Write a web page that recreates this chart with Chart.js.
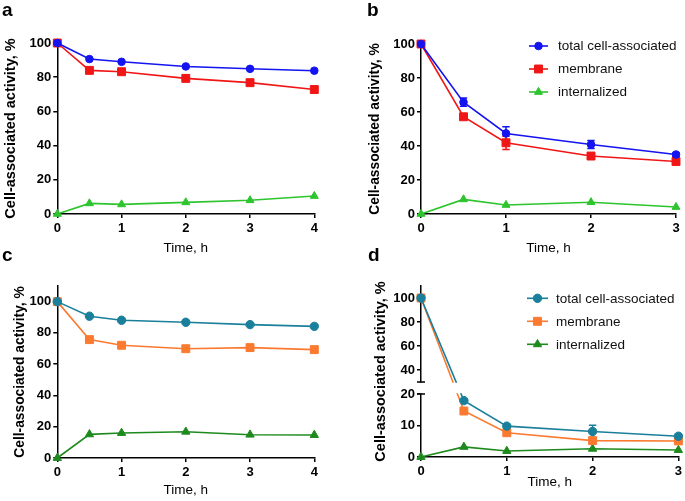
<!DOCTYPE html>
<html><head><meta charset="utf-8">
<script src="https://cdn.jsdelivr.net/npm/chart.js@4.4.1/dist/chart.umd.min.js"></script>
<style>
html,body{margin:0;padding:0;background:#fff;}
#wrap{position:relative;width:685px;height:501px;overflow:hidden;background:#fff;}
canvas{position:absolute;}
.lbl{position:absolute;font:bold 19px "Liberation Sans",Arial,sans-serif;line-height:19px;color:#000;}
</style></head><body>
<div id="wrap">
<canvas id="ca" width="342" height="260" style="left:0;top:0"></canvas>
<canvas id="cb" width="343" height="260" style="left:342px;top:0"></canvas>
<canvas id="cc" width="342" height="251" style="left:0;top:250px"></canvas>
<canvas id="cd" width="343" height="251" style="left:342px;top:250px"></canvas>
<div class="lbl" style="left:2px;top:0px">a</div>
<div class="lbl" style="left:367px;top:0px">b</div>
<div class="lbl" style="left:2px;top:245px">c</div>
<div class="lbl" style="left:368px;top:245px">d</div>
</div>
<script>
// ---- data ----
const seriesNames = ['total cell-associated', 'membrane', 'internalized'];
const yTitle = 'Cell-associated activity, %';
const xTitle = 'Time, h';

const timeA = [0, 0.5, 1, 2, 3, 4];
const aTotal = [100, 90.6, 89.0, 86.3, 84.9, 83.8];
const aMembrane = [100, 84.0, 83.2, 79.3, 76.8, 72.8];
const aInternal = [0, 6.2, 5.6, 6.8, 8.0, 10.5];

const timeB = [0, 0.5, 1, 2, 3];
const bTotal = [100, 65.8, 47.4, 40.9, 35.0];
const bTotalErr = [0, 2.4, 3.9, 2.3, 1.0];
const bMembrane = [100, 57.2, 41.9, 34.1, 30.9];
const bMembraneErr = [0, 1.0, 3.9, 1.5, 1.0];
const bInternal = [0, 8.6, 5.3, 6.9, 4.1];

const timeC = [0, 0.5, 1, 2, 3, 4];
const cTotal = [100, 90.7, 88.1, 86.8, 85.3, 84.2];
const cMembrane = [100, 75.7, 72.1, 69.9, 70.6, 69.3];
const cInternal = [0, 15.1, 16.0, 16.8, 14.9, 14.7];

const timeD = [0, 0.5, 1, 2, 3];
const dTotal = [100, 17.9, 9.8, 8.1, 6.6];
const dTotalErr = [0, 0.4, 0.4, 2.0, 0.3];
const dMembrane = [100, 14.6, 7.7, 5.2, 5.1];
const dInternal = [0, 3.2, 1.9, 2.6, 2.2];

const yTicksStd = [0, 20, 40, 60, 80, 100];
const yTicksBroken = [0, 10, 20, 40, 60, 80, 100];
const xTicks4 = [0, 1, 2, 3, 4];
const xTicks3 = [0, 1, 2, 3];

// ---- styling ----
const FAM = "'Liberation Sans', Arial, sans-serif";
const pal1 = ['#1414f0', '#f01616', '#2ec42e'];
const pal2 = ['#1a7f9b', '#fb7a30', '#1e8a1e'];
const BREAK_LOW = 20, BREAK_HIGH = 30, LOW_FRAC = 63 / 171, GAP_FRAC = 12 / 171;

// ---- broken linear scale for panel d ----
const LinearScale = Chart.LinearScale || Chart.registry.getScale('linear');
class BrokenScale extends LinearScale {
  getPixelForValue(v) {
    const top = this.top, bottom = this.bottom, h = bottom - top;
    const lowH = h * LOW_FRAC, gapH = h * GAP_FRAC, upH = h - lowH - gapH;
    if (v <= BREAK_LOW) return bottom - (v - this.min) / (BREAK_LOW - this.min) * lowH;
    if (v < BREAK_HIGH) return bottom - lowH - (v - BREAK_LOW) / (BREAK_HIGH - BREAK_LOW) * gapH;
    return bottom - lowH - gapH - (v - BREAK_HIGH) / (this.max - BREAK_HIGH) * upH;
  }
  getValueForPixel(p) {
    const top = this.top, bottom = this.bottom, h = bottom - top;
    const lowH = h * LOW_FRAC, gapH = h * GAP_FRAC, upH = h - lowH - gapH;
    const d = bottom - p;
    if (d <= lowH) return this.min + d / lowH * (BREAK_LOW - this.min);
    if (d <= lowH + gapH) return BREAK_LOW + (d - lowH) / gapH * (BREAK_HIGH - BREAK_LOW);
    return BREAK_HIGH + (d - lowH - gapH) / upH * (this.max - BREAK_HIGH);
  }
}
BrokenScale.id = 'brokenLinear';
BrokenScale.defaults = {};
Chart.register(BrokenScale);

// ---- plugins ----
const errorBars = {
  id: 'errorBars',
  beforeDatasetsDraw(chart) {
    const ctx = chart.ctx, ys = chart.scales.y;
    chart.data.datasets.forEach((ds, di) => {
      if (!ds.errors) return;
      const meta = chart.getDatasetMeta(di);
      ctx.save();
      ctx.strokeStyle = ds.borderColor; ctx.lineWidth = 1.5;
      meta.data.forEach((pt, i) => {
        const e = ds.errors[i]; if (!e) return;
        const v = ds.data[i].y;
        const y1 = ys.getPixelForValue(v + e), y2 = ys.getPixelForValue(v - e);
        ctx.beginPath();
        ctx.moveTo(pt.x, y1); ctx.lineTo(pt.x, y2);
        ctx.moveTo(pt.x - 3.7, y1); ctx.lineTo(pt.x + 3.7, y1);
        ctx.moveTo(pt.x - 3.7, y2); ctx.lineTo(pt.x + 3.7, y2);
        ctx.stroke();
      });
      ctx.restore();
    });
  }
};

const insideLegend = {
  id: 'insideLegend',
  afterDraw(chart, args, opts) {
    if (!opts || !opts.show) return;
    const ctx = chart.ctx;
    chart.data.datasets.forEach((ds, i) => {
      const y = opts.y + i * opts.dy;
      ctx.save();
      ctx.strokeStyle = ds.borderColor; ctx.lineWidth = ds.borderWidth;
      ctx.beginPath(); ctx.moveTo(opts.x, y); ctx.lineTo(opts.x + opts.len, y); ctx.stroke();
      ctx.fillStyle = ds.pointBackgroundColor; ctx.strokeStyle = ds.pointBorderColor; ctx.lineWidth = 1;
      Chart.helpers.drawPoint(ctx, {pointStyle: ds.pointStyle, radius: ds.pointRadius, rotation: 0, borderWidth: 1}, opts.x + opts.len / 2, y);
      ctx.fillStyle = '#111';
      ctx.font = opts.fontSize + 'px ' + FAM;
      ctx.textBaseline = 'middle'; ctx.textAlign = 'left';
      ctx.fillText(ds.label, opts.textX, y + 0.5);
      ctx.restore();
    });
  }
};

const axisBreak = {
  id: 'axisBreak',
  afterDatasetsDraw(chart, args, opts) {
    if (!opts || !opts.show) return;
    const ctx = chart.ctx, ys = chart.scales.y, ca = chart.chartArea;
    const pHigh = ys.getPixelForValue(BREAK_HIGH), pLow = ys.getPixelForValue(BREAK_LOW);
    ctx.save();
    ctx.fillStyle = '#fff';
    ctx.fillRect(ca.left - 5, pHigh + 0.8, ca.right - ca.left + 15, pLow - pHigh - 1.6);
    ctx.strokeStyle = '#000'; ctx.lineWidth = 1.5;
    ctx.beginPath();
    ctx.moveTo(ca.left - 4, pHigh); ctx.lineTo(ca.left + 4, pHigh);
    ctx.moveTo(ca.left - 4, pLow); ctx.lineTo(ca.left + 4, pLow);
    ctx.stroke();
    ctx.restore();
  }
};

function series(xs, ys, color, style, radius, label, err) {
  return {
    label, data: xs.map((x, i) => ({x, y: ys[i]})),
    borderColor: color, backgroundColor: color,
    pointBackgroundColor: color, pointBorderColor: color,
    pointStyle: style, pointRadius: radius, pointBorderWidth: 1,
    borderWidth: 1.6, tension: 0, clip: false, errors: err
  };
}

function makeChart(id, p) {
  const tickFont = {family: FAM, size: 13, weight: 'bold'};
  new Chart(document.getElementById(id), {
    type: 'line',
    data: {datasets: p.datasets},
    options: {
      responsive: false, animation: false, events: [],
      layout: {padding: {left: 0, right: p.padRight, top: p.padTop, bottom: 0}},
      plugins: {
        legend: {display: false}, tooltip: {enabled: false},
        insideLegend: p.legend || {show: false},
        axisBreak: {show: !!p.broken}
      },
      scales: {
        x: {
          type: 'linear', min: 0, max: p.xTicks[p.xTicks.length - 1],
          afterBuildTicks: s => { s.ticks = p.xTicks.map(v => ({value: v})); },
          afterFit: s => { s.height = p.xHeight; },
          grid: {drawOnChartArea: false, drawTicks: true, tickLength: 4, color: '#000', lineWidth: 1.5},
          border: {color: '#000', width: 1.5},
          ticks: {font: tickFont, color: '#000', padding: 3, maxRotation: 0, autoSkip: false},
          title: {display: true, text: xTitle, color: '#000', font: {family: FAM, size: 13.5}, padding: {top: 0, bottom: p.xTitlePad}}
        },
        y: {
          type: p.broken ? 'brokenLinear' : 'linear', min: 0, max: p.yMax,
          afterBuildTicks: s => { s.ticks = p.yTicks.map(v => ({value: v})); },
          afterFit: s => { s.width = p.yWidth; },
          grid: {drawOnChartArea: false, drawTicks: true, tickLength: 4, color: '#000', lineWidth: 1.5},
          border: {color: '#000', width: 1.5},
          ticks: {font: tickFont, color: '#000', padding: 2, autoSkip: false},
          title: {display: true, text: yTitle, color: '#000', font: {family: FAM, size: p.yTitleSize, weight: 'bold'}, padding: {top: p.yTitlePad, bottom: 0}}
        }
      }
    },
    plugins: [errorBars, insideLegend, axisBreak]
  });
}

makeChart('ca', {
  datasets: [
    series(timeA, aTotal, pal1[0], 'circle', 3.8, seriesNames[0]),
    series(timeA, aMembrane, pal1[1], 'rect', 5.6, seriesNames[1]),
    series(timeA, aInternal, pal1[2], 'triangle', 4.6, seriesNames[2])
  ],
  xTicks: xTicks4, yTicks: yTicksStd, yMax: 100,
  padTop: 43, padRight: 27.7, yWidth: 57.3, xHeight: 46,
  xTitlePad: 3.9, yTitleSize: 14.5, yTitlePad: 2
});

makeChart('cb', {
  datasets: [
    series(timeB, bTotal, pal1[0], 'circle', 3.8, seriesNames[0], bTotalErr),
    series(timeB, bMembrane, pal1[1], 'rect', 5.6, seriesNames[1], bMembraneErr),
    series(timeB, bInternal, pal1[2], 'triangle', 4.6, seriesNames[2])
  ],
  xTicks: xTicks3, yTicks: yTicksStd, yMax: 100,
  padTop: 44, padRight: 9, yWidth: 79, xHeight: 46,
  xTitlePad: 3.9, yTitleSize: 13.8, yTitlePad: 24.7,
  legend: {show: true, x: 187, len: 19, textX: 216, y: 46, dy: 23, fontSize: 13.5}
});

makeChart('cc', {
  datasets: [
    series(timeC, cTotal, pal2[0], 'circle', 4.2, seriesNames[0]),
    series(timeC, cMembrane, pal2[1], 'rect', 5.6, seriesNames[1]),
    series(timeC, cInternal, pal2[2], 'triangle', 4.8, seriesNames[2])
  ],
  xTicks: xTicks4, yTicks: yTicksStd, yMax: 110,
  padTop: 36, padRight: 27.7, yWidth: 57.3, xHeight: 43,
  xTitlePad: 2.9, yTitleSize: 13.8, yTitlePad: 12.4
});

makeChart('cd', {
  datasets: [
    series(timeD, dTotal, pal2[0], 'circle', 4.2, seriesNames[0], dTotalErr),
    series(timeD, dMembrane, pal2[1], 'rect', 5.6, seriesNames[1]),
    series(timeD, dInternal, pal2[2], 'triangle', 4.8, seriesNames[2])
  ],
  xTicks: xTicks3, yTicks: yTicksBroken, yMax: 110, broken: true,
  padTop: 36, padRight: 5.7, yWidth: 79, xHeight: 44,
  xTitlePad: 10.9, yTitleSize: 14.5, yTitlePad: 30.3,
  legend: {show: true, x: 185, len: 21, textX: 214, y: 48.3, dy: 23, fontSize: 13.5}
});
</script>
</body></html>
